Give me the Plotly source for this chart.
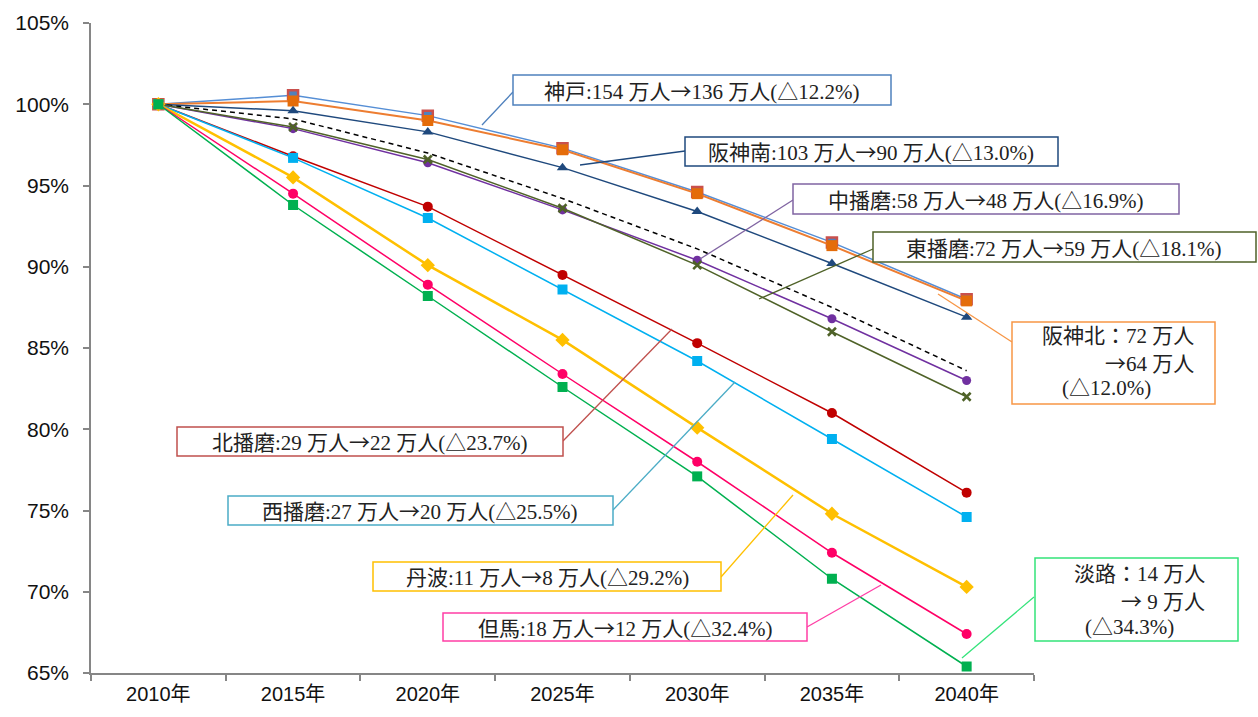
import plotly.graph_objects as go

years = ["2010年", "2015年", "2020年", "2025年", "2030年", "2035年", "2040年"]

kobe = [100, 100.55, 99.3, 97.3, 94.6, 91.5, 88.0]
hanshin_kita = [100, 100.2, 99.0, 97.2, 94.5, 91.3, 87.9]
hanshin_minami = [100, 99.6, 98.3, 96.1, 93.4, 90.2, 86.9]
hyogo_total = [100, 99.1, 97.0, 94.2, 91.1, 87.5, 83.6]
naka_harima = [100, 98.5, 96.4, 93.5, 90.4, 86.8, 83.0]
higashi_harima = [100, 98.6, 96.6, 93.6, 90.1, 86.0, 82.0]
kita_harima = [100, 96.8, 93.7, 89.5, 85.3, 81.0, 76.1]
nishi_harima = [100, 96.7, 93.0, 88.6, 84.2, 79.4, 74.6]
tamba = [100, 95.5, 90.1, 85.5, 80.1, 74.8, 70.3]
tajima = [100, 94.5, 88.9, 83.4, 78.0, 72.4, 67.4]
awaji = [100, 93.8, 88.2, 82.6, 77.1, 70.8, 65.4]

y_ticks = [65, 70, 75, 80, 85, 90, 95, 100, 105]

W, H = 1258, 717
L, R, T, B = 91, 1034, 23, 673  # plot area in screenshot pixels

fig = go.Figure()

series = [
    ("神戸", kobe, "#558ED5", 1.5, "square", 10, "#4F81BD", "#C9504D", 2.5),
    ("阪神北", hanshin_kita, "#ED7D31", 2, "square", 11, "#E46C0A", "#E46C0A", 0),
    ("阪神南", hanshin_minami, "#1F497D", 1.5, "triangle-up", 10, "#1F497D", "#1F497D", 0),
    ("兵庫県", hyogo_total, "#000000", 1.5, None, 0, None, None, 0),
    ("中播磨", naka_harima, "#7030A0", 1.5, "circle", 9, "#7030A0", "#7030A0", 0),
    ("東播磨", higashi_harima, "#4F6228", 1.5, "x-thin", 8, "#4F6228", "#4F6228", 2.5),
    ("北播磨", kita_harima, "#C00000", 1.5, "circle", 10, "#C00000", "#C00000", 0),
    ("西播磨", nishi_harima, "#00B0F0", 1.5, "square", 10, "#00B0F0", "#00B0F0", 0),
    ("丹波", tamba, "#FFC000", 2.5, "diamond", 11, "#FFC000", "#FFC000", 0),
    ("但馬", tajima, "#FF0066", 1.5, "circle", 10, "#FF0066", "#FF0066", 0),
    ("淡路", awaji, "#00B050", 1.5, "square", 10, "#00B050", "#00B050", 0),
]

for name, vals, lc, lw, sym, ms, mc, mlc, mlw in series:
    if sym is None:
        fig.add_trace(go.Scatter(x=years, y=vals, mode="lines", name=name,
                                 line=dict(color=lc, width=lw, dash="5px,4px")))
    else:
        fig.add_trace(go.Scatter(x=years, y=vals, mode="lines+markers", name=name,
                                 line=dict(color=lc, width=lw),
                                 marker=dict(symbol=sym, size=ms, color=mc,
                                             line=dict(color=mlc, width=mlw))))


def px(x):
    return (x - L) / (R - L)


def py(y):
    return (B - y) / (B - T)


label_font = dict(family="Liberation Serif, Noto Sans CJK JP", size=21, color="#222222")
ARROW = '<span style="font-family:Noto Sans CJK JP">→</span>'

boxes = [
    (513, 75, 891, 105, "#4F81BD", (482, 125), (513, 92), "#4F81BD",
     [(f"神戸:154 万人{ARROW}136 万人(△12.2%)", "center", 702, 90)]),
    (685, 137, 1058, 166, "#1F497D", (580, 165), (685, 151), "#1F497D",
     [(f"阪神南:103 万人{ARROW}90 万人(△13.0%)", "center", 871, 151)]),
    (793, 184, 1179, 214, "#8064A2", (700, 259), (793, 200), "#8064A2",
     [(f"中播磨:58 万人{ARROW}48 万人(△16.9%)", "center", 986, 199)]),
    (873, 232, 1256, 262, "#4F6228", (759, 299), (873, 249), "#4F6228",
     [(f"東播磨:72 万人{ARROW}59 万人(△18.1%)", "center", 1064, 247)]),
    (1012, 322, 1215, 404, "#F79646", (938, 294), (1012, 342), "#F79646",
     [("阪神北：72 万人", "right", 1196, 336), (f"{ARROW}64 万人", "right", 1196, 362),
      ("(△12.0%)", "left", 1060, 388)]),
    (177, 427, 563, 456, "#C0504D", (563, 441), (672, 329), "#C0504D",
     [(f"北播磨:29 万人{ARROW}22 万人(△23.7%)", "center", 370, 441)]),
    (228, 496, 613, 525, "#4BACC6", (613, 510), (735, 382), "#4BACC6",
     [(f"西播磨:27 万人{ARROW}20 万人(△25.5%)", "center", 420, 510)]),
    (373, 562, 721, 591, "#FFC000", (721, 577), (793, 495), "#FFC000",
     [(f"丹波:11 万人{ARROW}8 万人(△29.2%)", "center", 547, 576)]),
    (443, 613, 807, 641, "#FF3EA5", (807, 627), (881, 585), "#FF3EA5",
     [(f"但馬:18 万人{ARROW}12 万人(△32.4%)", "center", 625, 627)]),
    (1035, 558, 1238, 641, "#33E37A", (962, 658), (1034, 597), "#33E37A",
     [("淡路：14 万人", "right", 1207, 574), (f"{ARROW} 9 万人", "right", 1207, 600),
      ("(△34.3%)", "left", 1083, 627)]),
]

shapes = []
annotations = []
for x0, y0, x1, y1, bc, (lx0, ly0), (lx1, ly1), lc, lines in boxes:
    shapes.append(dict(type="line", xref="paper", yref="paper",
                       x0=px(lx0), y0=py(ly0), x1=px(lx1), y1=py(ly1),
                       line=dict(color=lc, width=1.3), layer="above"))
    shapes.append(dict(type="rect", xref="paper", yref="paper",
                       x0=px(x0), y0=py(y0), x1=px(x1), y1=py(y1),
                       line=dict(color=bc, width=1.5), fillcolor="white", layer="above"))
    for text, anchor, tx, ty in lines:
        annotations.append(dict(xref="paper", yref="paper", x=px(tx), y=py(ty),
                                text=text, showarrow=False, xanchor=anchor,
                                yanchor="middle", font=label_font))

fig.update_layout(
    width=W, height=H,
    autosize=False,
    margin=dict(l=L, r=W - R, t=T, b=H - B, pad=0, autoexpand=False),
    paper_bgcolor="white", plot_bgcolor="white",
    showlegend=False,
    shapes=shapes,
    annotations=annotations,
    xaxis=dict(type="category", range=[-0.5, 6.5], showgrid=False, zeroline=False,
               automargin=False,
               showline=True, linecolor="#868686", linewidth=1.5,
               ticks="outside", tickson="boundaries", ticklen=6, tickcolor="#868686",
               tickwidth=1.5,
               tickfont=dict(family="Liberation Sans, Noto Sans CJK JP", size=20, color="#111111"),
               ticklabelstandoff=2),
    yaxis=dict(range=[65, 105], tickvals=y_ticks, ticktext=[f"{v}%" for v in y_ticks],
               showgrid=False, zeroline=False, automargin=False,
               showline=True, linecolor="#868686", linewidth=1.5,
               ticks="outside", ticklen=6, tickcolor="#868686", tickwidth=1.5,
               tickfont=dict(family="Liberation Sans, Arial", size=21, color="#111111"),
               ticklabelstandoff=10),
)

fig.write_html("out.html",
               config={"displayModeBar": False},
               post_script="document.body.style.margin='0';document.documentElement.style.overflow='hidden';")
